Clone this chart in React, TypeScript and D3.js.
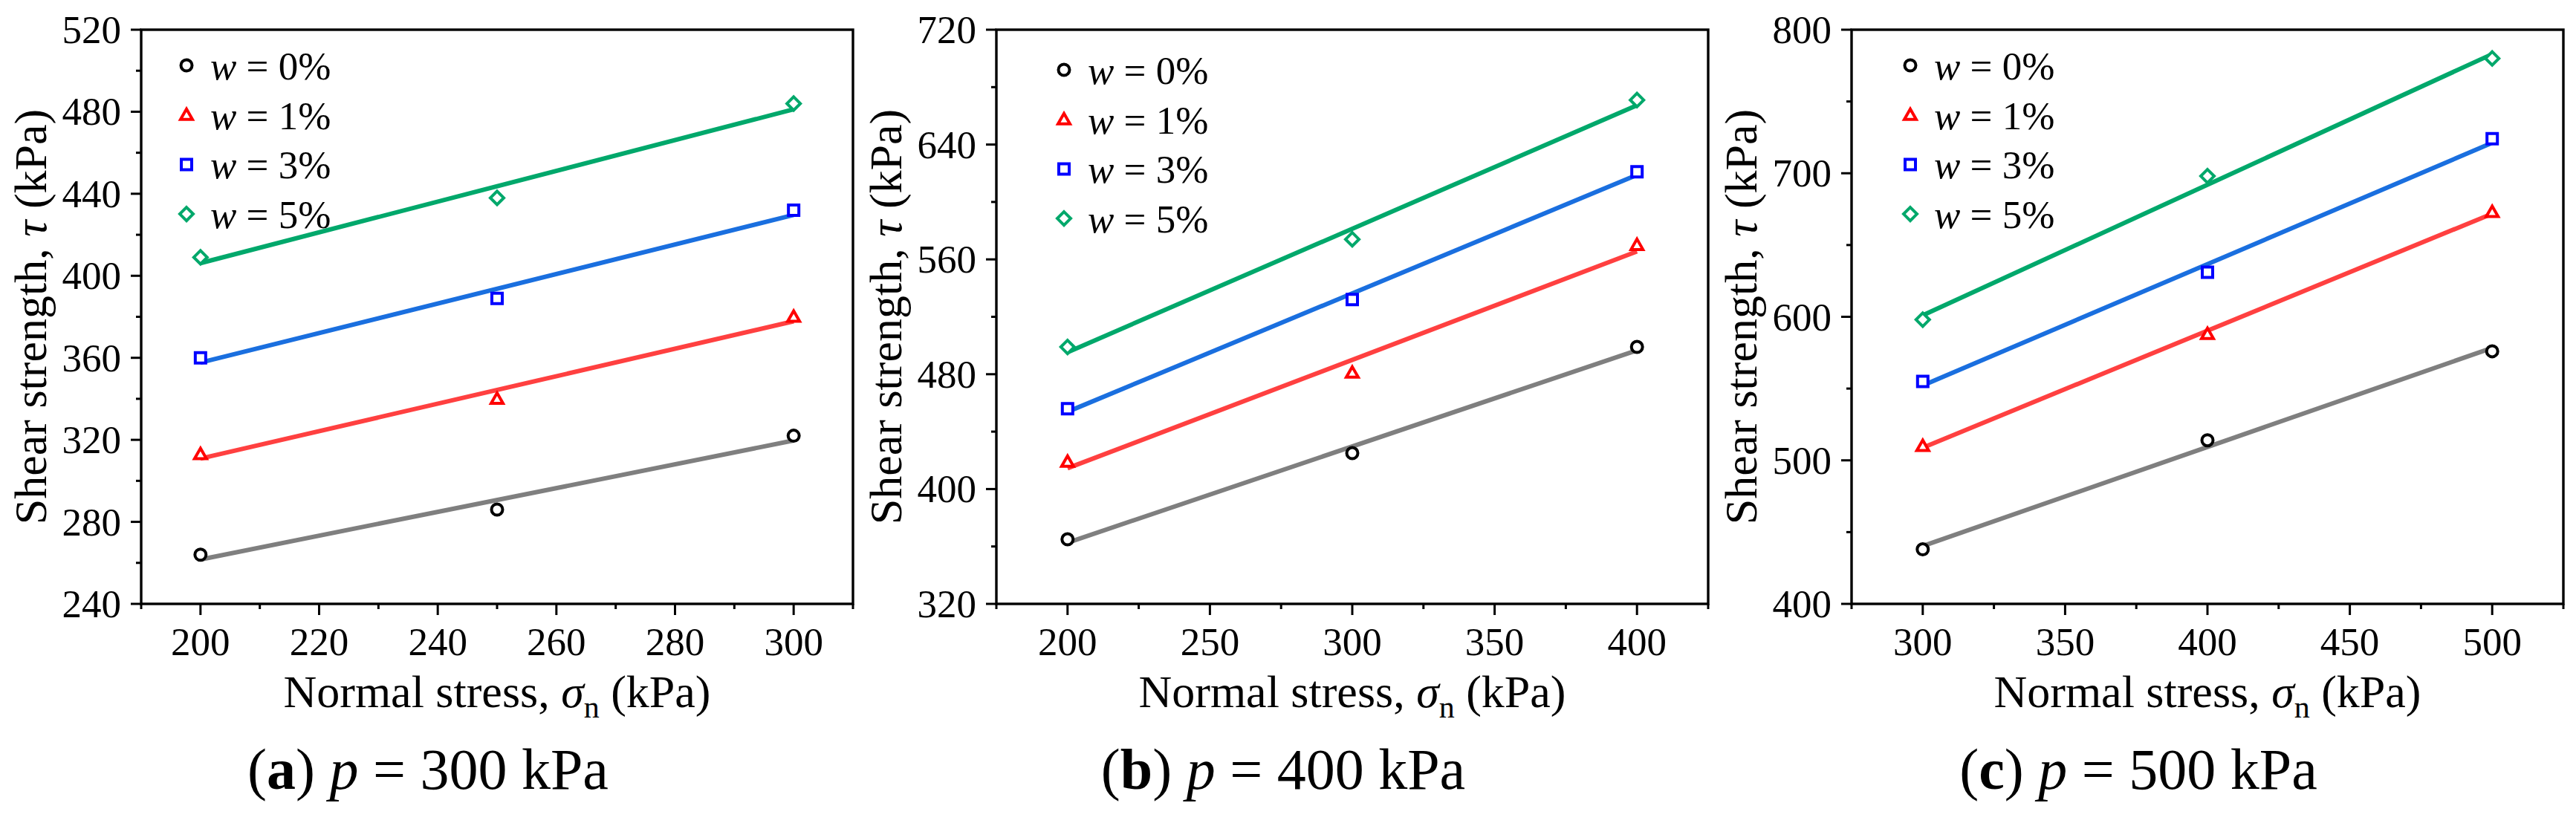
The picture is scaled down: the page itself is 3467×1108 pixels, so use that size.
import React, { useEffect, useRef } from 'react';
import * as d3 from 'd3';

const WIDTH = 3467;
const HEIGHT = 1108;

// moisture contents, one series each
const seriesLabels = ['0%', '1%', '3%', '5%'];
const markerShapes = ['circle', 'triangle', 'square', 'diamond'];
const markerColors = ['#000000', '#ff0000', '#0000ff', '#00a86b'];
const lineColors = ['#7f7f7f', '#ff4040', '#1a6fdf', '#00a86b'];

// (a) p = 300 kPa
const sigmaA = [200, 250, 300];
const tauA = [
  [264, 286, 322],
  [313, 340, 380],
  [360, 389, 432],
  [409, 438, 484],
];

// (b) p = 400 kPa
const sigmaB = [200, 300, 400];
const tauB = [
  [365, 425, 499],
  [419, 481, 570],
  [456, 532, 621],
  [499, 574, 671],
];

// (c) p = 500 kPa
const sigmaC = [300, 400, 500];
const tauC = [
  [438, 514, 576],
  [510, 588, 673],
  [555, 631, 724],
  [598, 698, 780],
];

const panelLetters = ['a', 'b', 'c'];
const pressures = ['300', '400', '500'];

const xDomains = [[190, 310], [175, 425], [275, 525]];
const yDomains = [[240, 520], [320, 720], [400, 800]];

const xTicks = [
  [200, 220, 240, 260, 280, 300],
  [200, 250, 300, 350, 400],
  [300, 350, 400, 450, 500],
];
const xMinorTicks = [
  [190, 210, 230, 250, 270, 290, 310],
  [175, 225, 275, 325, 375, 425],
  [275, 325, 375, 425, 475, 525],
];
const yTicks = [
  [240, 280, 320, 360, 400, 440, 480, 520],
  [320, 400, 480, 560, 640, 720],
  [400, 500, 600, 700, 800],
];
const yMinorTicks = [
  [260, 300, 340, 380, 420, 460, 500],
  [360, 440, 520, 600, 680],
  [450, 550, 650, 750],
];

const FONT = "'Liberation Serif', 'Times New Roman', Tinos, 'DejaVu Serif', serif";

// least squares fit through the measured points
function linearFit(xs: number[], ys: number[]) {
  const mx = d3.mean(xs) as number;
  const my = d3.mean(ys) as number;
  let num = 0;
  let den = 0;
  xs.forEach((x, i) => {
    num += (x - mx) * (ys[i] - my);
    den += (x - mx) * (x - mx);
  });
  const slope = num / den;
  return (x: number) => my + slope * (x - mx);
}

function markerPath(shape: string) {
  switch (shape) {
    case 'triangle':
      return 'M0,-8L8,6L-8,6Z';
    case 'square':
      return 'M-7,-7H7V7H-7Z';
    case 'diamond':
      return 'M0,-9L9,0L0,9L-9,0Z';
    default:
      return '';
  }
}

function drawMarker(g: d3.Selection<SVGGElement, unknown, null, undefined>, shape: string, cx: number, cy: number, color: string) {
  if (shape === 'circle') {
    g.append('circle')
      .attr('cx', cx)
      .attr('cy', cy)
      .attr('r', 7.5)
      .attr('fill', '#fff')
      .attr('stroke', color)
      .attr('stroke-width', 4);
  } else {
    g.append('path')
      .attr('d', markerPath(shape))
      .attr('transform', `translate(${cx},${cy})`)
      .attr('fill', '#fff')
      .attr('stroke', color)
      .attr('stroke-width', 4)
      .attr('stroke-linejoin', 'miter');
  }
}

const panelSigma = [sigmaA, sigmaB, sigmaC];
const panelTau = [tauA, tauB, tauC];

export default function App() {
  const svgRef = useRef<SVGSVGElement>(null);

  useEffect(() => {
    if (!svgRef.current) return;
    const svg = d3.select(svgRef.current);
    svg.selectAll('*').remove();

    const plotW = 958;
    const top = 40;
    const bottom = 813;
    const legendDx = [61, 91, 79];
    const legendBase = [107, 113, 107];

    panelLetters.forEach((letter, p) => {
      const left = 190 + p * 1151;
      const right = left + plotW;

      const x = d3.scaleLinear().domain(xDomains[p]).range([left, right]);
      const y = d3.scaleLinear().domain(yDomains[p]).range([bottom, top]);

      const g = svg.append('g').style('font-family', FONT);

      // ticks
      yTicks[p].forEach(t => {
        g.append('line')
          .attr('x1', left - 14).attr('x2', left)
          .attr('y1', y(t)).attr('y2', y(t))
          .attr('stroke', '#000').attr('stroke-width', 3);
        g.append('text')
          .attr('x', left - 27)
          .attr('y', y(t))
          .attr('dy', '0.34em')
          .attr('text-anchor', 'end')
          .attr('font-size', 53)
          .text(t);
      });
      yMinorTicks[p].forEach(t => {
        g.append('line')
          .attr('x1', left - 7).attr('x2', left)
          .attr('y1', y(t)).attr('y2', y(t))
          .attr('stroke', '#000').attr('stroke-width', 3);
      });
      xTicks[p].forEach(t => {
        g.append('line')
          .attr('x1', x(t)).attr('x2', x(t))
          .attr('y1', bottom).attr('y2', bottom + 15)
          .attr('stroke', '#000').attr('stroke-width', 3);
        g.append('text')
          .attr('x', x(t))
          .attr('y', bottom + 69)
          .attr('text-anchor', 'middle')
          .attr('font-size', 53)
          .text(t);
      });
      xMinorTicks[p].forEach(t => {
        g.append('line')
          .attr('x1', x(t)).attr('x2', x(t))
          .attr('y1', bottom).attr('y2', bottom + 7)
          .attr('stroke', '#000').attr('stroke-width', 3);
      });

      // frame
      g.append('rect')
        .attr('x', left).attr('y', top)
        .attr('width', plotW).attr('height', bottom - top)
        .attr('fill', 'none')
        .attr('stroke', '#000')
        .attr('stroke-width', 3.4);

      // fit lines
      const xs = panelSigma[p];
      panelTau[p].forEach((ys, s) => {
        const fit = linearFit(xs, ys);
        const ends = [xs[0], xs[xs.length - 1]];
        const line = d3.line<number>().x(d => x(d)).y(d => y(fit(d)));
        g.append('path')
          .datum(ends)
          .attr('d', line)
          .attr('fill', 'none')
          .attr('stroke', lineColors[s])
          .attr('stroke-width', 6);
      });

      // measured points
      panelTau[p].forEach((ys, s) => {
        ys.forEach((v, i) => drawMarker(g, markerShapes[s], x(xs[i]), y(v), markerColors[s]));
      });

      // legend
      seriesLabels.forEach((lab, s) => {
        const mx = left + legendDx[p];
        const base = legendBase[p] + s * 66.7;
        drawMarker(g, markerShapes[s], mx, base - 19, markerColors[s]);
        const t = g.append('text')
          .attr('x', mx + 32)
          .attr('y', base)
          .attr('font-size', 53)
          .attr('xml:space', 'preserve');
        t.append('tspan').attr('font-style', 'italic').text('w');
        t.append('tspan').text(` = ${lab}`);
      });

      // x axis title
      const xt = g.append('text')
        .attr('x', left + plotW / 2)
        .attr('y', 952)
        .attr('text-anchor', 'middle')
        .attr('font-size', 62);
      xt.append('tspan').text('Normal stress, ');
      xt.append('tspan').attr('font-style', 'italic').text('σ');
      xt.append('tspan').attr('font-size', 42).attr('dy', 14).text('n');
      xt.append('tspan').attr('dy', -14).text(' (kPa)');

      // y axis title
      const yt = g.append('text')
        .attr('transform', `translate(${left - 128},${(top + bottom) / 2}) rotate(-90)`)
        .attr('text-anchor', 'middle')
        .attr('font-size', 62);
      yt.append('tspan').text('Shear strength,  ');
      yt.append('tspan').attr('font-style', 'italic').text('τ');
      yt.append('tspan').text(' (kPa)');

      // panel caption
      const cap = g.append('text')
        .attr('x', left + 386)
        .attr('y', 1062)
        .attr('text-anchor', 'middle')
        .attr('font-size', 78);
      cap.append('tspan').text('(');
      cap.append('tspan').attr('font-weight', 'bold').text(letter);
      cap.append('tspan').text(') ');
      cap.append('tspan').attr('font-style', 'italic').text('p');
      cap.append('tspan').text(` = ${pressures[p]} kPa`);
    });
  }, []);

  return (
    <div style={{ position: 'absolute', left: 0, top: 0, background: '#fff' }}>
      <svg ref={svgRef} width={WIDTH} height={HEIGHT} style={{ display: 'block' }} />
    </div>
  );
}
